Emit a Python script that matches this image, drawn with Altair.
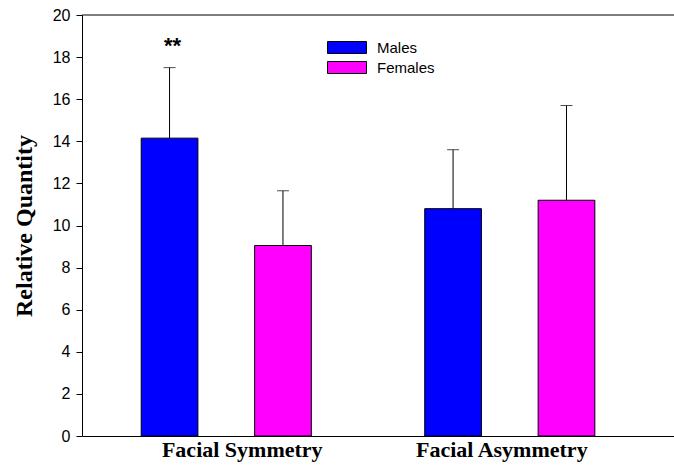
import altair as alt
import pandas as pd

# Group means with the upper end of each error bar
groups = ["Facial Symmetry", "Facial Symmetry", "Facial Asymmetry", "Facial Asymmetry"]
sexes = ["Males", "Females", "Males", "Females"]
means = [14.15, 9.05, 10.8, 11.2]
upper = [17.5, 11.65, 13.6, 15.7]

group_order = ["Facial Symmetry", "Facial Asymmetry"]
sex_order = ["Males", "Females"]
sex_colors = ["#0000ff", "#ff00ff"]

# Significance marker
star_group = ["Facial Symmetry"]
star_sex = ["Males"]
star_y = [18.2]
star_text = ["**"]

y_ticks = [0, 2, 4, 6, 8, 10, 12, 14, 16, 18, 20]
y_top = [20]

df = pd.DataFrame({"group": groups, "sex": sexes, "mean": means, "upper": upper})
stars = pd.DataFrame({"group": star_group, "sex": star_sex, "y": star_y, "label": star_text})
top_line = pd.DataFrame({"top": y_top})

x_enc = alt.X(
    "group:N",
    sort=group_order,
    scale=alt.Scale(paddingInner=0, paddingOuter=0.044, align=0.1),
    axis=alt.Axis(
        title=None,
        labelAngle=0,
        ticks=False,
        domainColor="black",
        labelFont="Liberation Serif",
        labelFontWeight="bold",
        labelFontSize=22,
        labelColor="black",
        labelPadding=3,
        labelOffset=alt.ExprRef("datum.value === 'Facial Symmetry' ? 16 : -8"),
    ),
)
xoff_enc = alt.XOffset("sex:N", sort=sex_order, scale=alt.Scale(paddingInner=0.5, paddingOuter=0.5))
y_scale = alt.Scale(domain=[0, 20], nice=False, zero=True)

bars = alt.Chart(df).mark_bar(stroke="black", strokeWidth=1).encode(
    x=x_enc,
    xOffset=xoff_enc,
    y=alt.Y(
        "mean:Q",
        scale=y_scale,
        axis=alt.Axis(
            title="Relative Quantity",
            values=y_ticks,
            grid=False,
            tickSize=6,
            tickColor="black",
            domainColor="black",
            labelFont="Liberation Sans",
            labelFontSize=16,
            labelColor="black",
            labelPadding=6,
            titleFont="Liberation Serif",
            titleFontWeight="bold",
            titleFontSize=24,
            titleColor="black",
            titlePadding=16,
        ),
    ),
    color=alt.Color(
        "sex:N",
        sort=sex_order,
        scale=alt.Scale(domain=sex_order, range=sex_colors),
        legend=alt.Legend(
            title=None,
            orient="none",
            legendX=257.5,
            legendY=25,
            padding=0,
            # wide swatch: 39 x 12 px box drawn from a 12 px symbol size
            symbolType="M-3.25,-1H3.25V1H-3.25Z",
            symbolSize=144,
            symbolStrokeColor="black",
            symbolStrokeWidth=1,
            symbolOpacity=1,
            labelFont="Liberation Sans",
            labelFontSize=15,
            labelColor="black",
            labelOffset=22.5,
            rowPadding=3,
        ),
    ),
)

stems = alt.Chart(df).mark_rule(color="black", strokeWidth=1).encode(
    x=x_enc, xOffset=xoff_enc, y=alt.Y("mean:Q", scale=y_scale), y2="upper:Q"
)

caps = alt.Chart(df).mark_tick(color="black", size=12, thickness=1).encode(
    x=x_enc, xOffset=xoff_enc, y=alt.Y("upper:Q", scale=y_scale)
)

star_marks = alt.Chart(stars).mark_text(
    font="Liberation Sans", fontWeight="bold", fontSize=22, baseline="alphabetic", dx=3, color="black"
).encode(x=x_enc, xOffset=xoff_enc, y=alt.Y("y:Q", scale=y_scale), text="label:N")

frame_top = alt.Chart(top_line).mark_rule(color="black", strokeWidth=1).encode(
    y=alt.Y("top:Q", scale=y_scale)
)

chart = (
    alt.layer(bars, stems, caps, star_marks, frame_top)
    .properties(
        width=592,
        height=421,
        autosize=alt.AutoSizeParams(type="none"),
        padding={"left": 82, "top": 15, "right": 0, "bottom": 31},
        background="white",
    )
    .configure_view(stroke=None)
)

chart.save("out.html", embed_options={"renderer": "svg", "actions": False})
